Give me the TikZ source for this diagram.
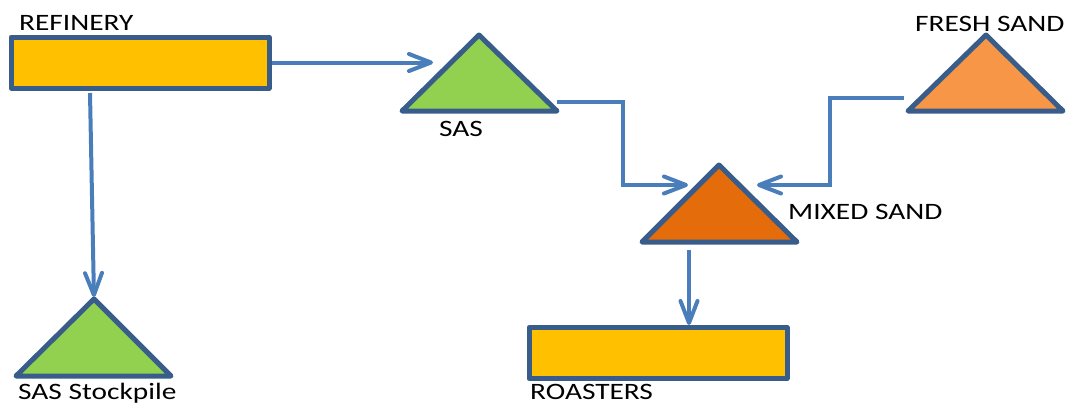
\documentclass[tikz,border=0pt]{standalone}
\usepackage{fontspec}
\setmainfont{Carlito}[FakeStretch=1.25]
\usetikzlibrary{arrows.meta}
\definecolor{edgeblue}{HTML}{385D8A}
\definecolor{flowblue}{HTML}{4A7EBB}
\definecolor{boxyellow}{HTML}{FFC000}
\definecolor{sasgreen}{HTML}{92D050}
\definecolor{freshorange}{HTML}{F79646}
\definecolor{mixorange}{HTML}{E46C0A}
\begin{document}
\begin{tikzpicture}[x=1pt, y=-1pt,
		unit/.style={draw=edgeblue, line width=5pt, line join=round, fill=boxyellow, inner sep=0pt, minimum width=258pt, minimum height=51pt},
		heap/.style={draw=edgeblue, line width=5pt, line join=round},
		flow/.style={draw=flowblue, line width=4pt, -{Straight Barb[length=22pt, width=17pt, round]}},
		lbl/.style={anchor=base west, inner sep=0pt, font=\fontsize{23.5}{28}\selectfont}]
		\useasboundingbox (0,0) rectangle (1069,405);
		\coordinate (sasT) at (479,35);
		\coordinate (sasL) at (402,111);
		\coordinate (sasR) at (557,111);
		\coordinate (pileT) at (94,299);
		\coordinate (pileL) at (16,376);
		\coordinate (pileR) at (171,376);
		\coordinate (freshT) at (986,35);
		\coordinate (freshL) at (908,111);
		\coordinate (freshR) at (1063,111);
		\coordinate (mixT) at (719,165);
		\coordinate (mixL) at (642,242);
		\coordinate (mixR) at (797,242);
		\draw[heap, fill=sasgreen] (sasL) -- (sasT) -- (sasR) -- cycle;
		\draw[heap, fill=sasgreen] (pileL) -- (pileT) -- (pileR) -- cycle;
		\draw[heap, fill=freshorange] (freshL) -- (freshT) -- (freshR) -- cycle;
		\draw[heap, fill=mixorange] (mixL) -- (mixT) -- (mixR) -- cycle;
		\node[unit] (refinery) at (140,62.5) {};
		\node[unit] (roasters) at (658,353) {};
		\coordinate (sasIn) at (433,62.5);
		\coordinate (refOut) at (90,93);
		\coordinate (sasOut) at (557,102);
		\coordinate (freshOut) at (904,98);
		\coordinate (mixInL) at (688,185);
		\coordinate (mixInR) at (757,185);
		\coordinate (mixOut) at (689,250);
		\draw[flow] (refinery.east) -- (sasIn);
		\draw[flow, shorten >=2pt] (refOut) -- (pileT);
		\draw[flow] (sasOut) -- ++(66,0) |- (mixInL);
		\draw[flow] (freshOut) -- ++(-74,0) |- (mixInR);
		\draw[flow] (mixOut) -- (mixOut |- roasters.north);
		\node[lbl] (refineryText) at (19,30) {REFINERY};
		\node[lbl] (sasText) at (439,136.5) {SAS};
		\node[lbl] (pileText) at (18,399) {SAS Stockpile};
		\node[lbl] (roastersText) at (530,399.5) {ROASTERS};
		\node[lbl] (freshText) at (915,31) {FRESH SAND};
		\node[lbl] (mixText) at (788,219.5) {MIXED SAND};
	\end{tikzpicture}
\end{document}
